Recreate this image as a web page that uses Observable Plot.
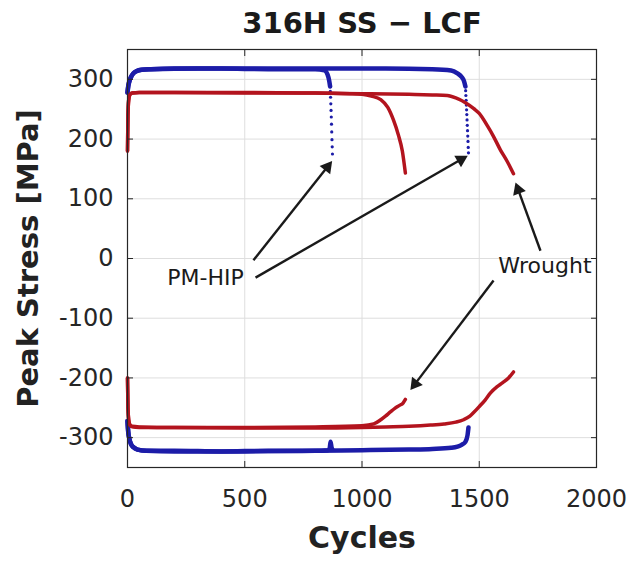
<!DOCTYPE html>
<html>
<head>
<meta charset="utf-8">
<script src="https://cdn.jsdelivr.net/npm/d3@7"></script>
<script src="https://cdn.jsdelivr.net/npm/@observablehq/plot@0.6"></script>
<style>
  html, body { margin: 0; padding: 0; background: #fff; }
  #chart { width: 634px; height: 561px; }
</style>
</head>
<body>
<div id="chart"></div>
<script>
// ---------- Data ----------
const titleText = "316H SS \u2212 LCF";
const xLabelText = "Cycles";
const yLabelText = "Peak Stress [MPa]";
const xTicks = [0, 500, 1000, 1500, 2000];
const yTicks = [-300, -200, -100, 0, 100, 200, 300];

// PM-HIP specimen A (fails ~870 cycles)
const hipAMaxCycles = [0, 3, 8, 15, 25, 40, 60, 100, 200, 400, 600, 800, 840, 853, 860, 864];
const hipAMaxStress = [278, 288, 297, 304, 310, 314, 316, 317, 318, 318, 317, 317, 315, 308, 298, 288];
const hipADropCycles = [865, 866, 867, 868, 869, 870, 871, 872, 873, 874];
const hipADropStress = [280, 270, 259, 248, 237, 225, 212, 199, 187, 175];
const hipAMinCycles = [0, 3, 8, 15, 25, 43, 80, 200, 400, 600, 800, 855, 862, 866, 870, 874];
const hipAMinStress = [-272, -290, -302, -311, -316, -320, -322, -322, -323, -322, -322, -321, -318, -307, -316, -320];

// PM-HIP specimen B (fails ~1455 cycles)
const hipBMaxCycles = [0, 3, 8, 15, 25, 40, 60, 100, 300, 600, 900, 1100, 1300, 1380, 1407, 1425, 1435, 1441];
const hipBMaxStress = [278, 288, 297, 304, 310, 314, 316, 317, 318, 318, 318, 318, 317, 315, 310, 304, 297, 288];
const hipBDropCycles = [1442, 1443, 1444, 1445, 1446, 1447, 1448, 1449, 1450, 1451, 1452, 1453, 1454];
const hipBDropStress = [281, 273, 265, 257, 249, 241, 232, 223, 214, 205, 196, 186, 177];
const hipBMinCycles = [0, 3, 8, 15, 25, 43, 80, 200, 500, 800, 1000, 1200, 1300, 1380, 1407, 1425, 1441, 1450, 1454];
const hipBMinStress = [-272, -290, -302, -311, -316, -320, -322, -323, -323, -322, -321, -320, -319, -317, -315, -312, -307, -296, -283];

// Wrought specimen A (fails ~1185 cycles)
const wroAMaxCycles = [0, 2, 5, 10, 20, 50, 200, 500, 800, 950, 1000, 1040, 1080, 1110, 1134, 1155, 1172, 1185];
const wroAMaxStress = [180, 240, 265, 274, 277, 278, 278, 277, 277, 276, 275, 272, 266, 253, 232, 207, 180, 143];
const wroAMinCycles = [0, 2, 5, 10, 20, 50, 200, 500, 800, 1000, 1050, 1080, 1100, 1121, 1140, 1160, 1175, 1185];
const wroAMinStress = [-200, -250, -270, -278, -281, -282, -283, -283, -282, -280, -277, -270, -264, -257, -251, -246, -242, -236];

// Wrought specimen B (fails ~1646 cycles)
const wroBMaxCycles = [0, 2, 5, 10, 20, 50, 200, 500, 800, 1000, 1200, 1300, 1364, 1400, 1441, 1477, 1500, 1535, 1560, 1590, 1620, 1646];
const wroBMaxStress = [180, 240, 265, 274, 277, 278, 278, 278, 277, 276, 275, 274, 273, 269, 261, 251, 243, 222, 205, 182, 162, 142];
const wroBMinCycles = [0, 2, 5, 10, 20, 50, 200, 500, 800, 1000, 1100, 1200, 1292, 1350, 1400, 1433, 1460, 1476, 1500, 1525, 1548, 1575, 1600, 1625, 1646];
const wroBMinStress = [-200, -250, -270, -279, -282, -283, -283, -284, -284, -283, -282, -281, -279, -277, -274, -270, -264, -258, -248, -237, -225, -215, -208, -200, -190];

// Annotations (data coordinates)
const labelNames = ["PM-HIP", "Wrought"];
const labelX = [333, 1780];
const labelY = [-33, -13];
const arrowX1 = [537, 546, 1761, 1561];
const arrowY1 = [-3, -32, 13, -37];
const arrowX2 = [872, 1450, 1655, 1207];
const arrowY2 = [163, 172, 127, -220];

// ---------- Build tables ----------
const zip = (xs, ys) => xs.map((x, i) => ({x, y: ys[i]}));
const blue = "#1c1ca8";
const red = "#b3141e";
const ink = "#1a1a1a";
const fontFam = "DejaVu Sans, Verdana, sans-serif";

const layout = {
  width: 634,
  height: 561,
  marginLeft: 127,
  marginRight: 38,
  marginTop: 49,
  marginBottom: 94,
  x: {domain: [0, 2000]},
  y: {domain: [-350, 350]}
};

// probe pass to get the scales (for arrowhead orientation in screen space)
const probe = Plot.plot({...layout, marks: [Plot.frame()]});
const sx = probe.scale("x"), sy = probe.scale("y");
const headTip = 7.5; // distance from triangle centroid to tip, px
const arrows = arrowX1.map((x1, i) => {
  const px1 = sx.apply(x1), py1 = sy.apply(arrowY1[i]);
  const px2 = sx.apply(arrowX2[i]), py2 = sy.apply(arrowY2[i]);
  const dx = px2 - px1, dy = py2 - py1, L = Math.hypot(dx, dy);
  const cx = px2 - dx / L * headTip, cy = py2 - dy / L * headTip;
  return {
    x1, y1: arrowY1[i],
    hx: sx.invert(cx), hy: sy.invert(cy),
    angle: Math.atan2(dx, -dy) * 180 / Math.PI
  };
});
const labels = labelNames.map((t, i) => ({t, x: labelX[i], y: labelY[i]}));

const lineMark = (xs, ys, color, w) =>
  Plot.line(zip(xs, ys), {x: "x", y: "y", stroke: color, strokeWidth: w, curve: "monotone-x"});

const fmt = d => String(d);

const chart = Plot.plot({
  ...layout,
  style: {fontFamily: fontFam, fontSize: "24px", color: "#262626", background: "#fff"},
  marks: [
    Plot.gridX(xTicks, {stroke: "#dedede", strokeOpacity: 1, strokeWidth: 1}),
    Plot.gridY(yTicks, {stroke: "#dedede", strokeOpacity: 1, strokeWidth: 1}),
    // blue PM-HIP
    lineMark(hipAMaxCycles, hipAMaxStress, blue, 4.5),
    lineMark(hipAMinCycles, hipAMinStress, blue, 4.5),
    Plot.dot(zip(hipADropCycles, hipADropStress), {x: "x", y: "y", r: 1.6, fill: blue}),
    lineMark(hipBMaxCycles, hipBMaxStress, blue, 4.5),
    lineMark(hipBMinCycles, hipBMinStress, blue, 4.5),
    Plot.dot(zip(hipBDropCycles, hipBDropStress), {x: "x", y: "y", r: 1.6, fill: blue}),
    // red wrought
    lineMark(wroAMaxCycles, wroAMaxStress, red, 3.5),
    lineMark(wroAMinCycles, wroAMinStress, red, 3.5),
    lineMark(wroBMaxCycles, wroBMaxStress, red, 3.5),
    lineMark(wroBMinCycles, wroBMinStress, red, 3.5),
    // annotations
    Plot.link(arrows, {x1: "x1", y1: "y1", x2: "hx", y2: "hy", stroke: ink, strokeWidth: 2.4}),
    Plot.dot(arrows, {x: "hx", y: "hy", symbol: "triangle", r: 5, rotate: "angle", fill: ink, stroke: "none"}),
    Plot.text(labels, {x: "x", y: "y", text: "t", fontSize: 22, fill: ink}),
    // frame and axes
    Plot.frame({stroke: "#262626", strokeWidth: 1.2}),
    Plot.axisX(xTicks, {tickSize: -6, tickPadding: 28, tickFormat: fmt, label: null, stroke: "#262626", fill: "#262626"}),
    Plot.axisX(xTicks, {anchor: "top", tickSize: -6, tickFormat: () => "", label: null, stroke: "#262626"}),
    Plot.axisY(yTicks, {tickSize: -6, tickPadding: 20, tickFormat: fmt, label: null, stroke: "#262626", fill: "#262626"}),
    Plot.axisY(yTicks, {anchor: "right", tickSize: -6, tickFormat: () => "", label: null, stroke: "#262626"}),
    // title & axis labels
    Plot.text([titleText], {frameAnchor: "top", dy: -37, fontSize: 29, fontWeight: "bold", fill: ink}),
    Plot.text([xLabelText], {frameAnchor: "bottom", dy: 80, fontSize: 30, fontWeight: "bold", fill: "#222"}),
    Plot.text([yLabelText], {frameAnchor: "left", textAnchor: "middle", dx: -99, rotate: -90, fontSize: 29, fontWeight: "bold", fill: "#222"})
  ]
});
document.getElementById("chart").appendChild(chart);
</script>
</body>
</html>
